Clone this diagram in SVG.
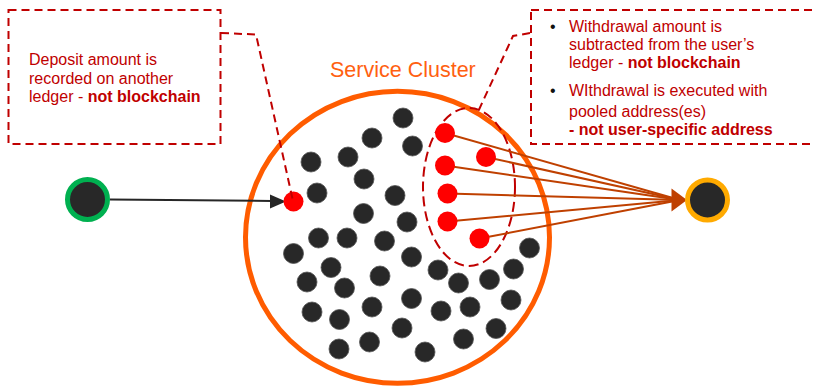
<svg xmlns="http://www.w3.org/2000/svg" width="815" height="387" viewBox="0 0 815 387">
  <style>
    .note { fill: #c00000; font-family: "Liberation Sans", Arial, sans-serif; font-size: 16px; }
    .note tspan.b { font-weight: bold; }
    .bullet { fill: #111; font-family: "Liberation Sans", Arial, sans-serif; font-size: 16px; }
    .callout { fill: none; stroke: #c00000; stroke-width: 2; stroke-dasharray: 8 5; }
    .dot { fill: #282828; stroke: #555; stroke-width: 0.8; }
    .hot { fill: #ff0000; }
    .flow { stroke: #bf4000; stroke-width: 2; fill: none; }
    .endpoint-in { fill: #282828; stroke: #00b050; stroke-width: 5; }
    .endpoint-out { fill: #282828; stroke: #ffaa00; stroke-width: 5; }
  </style>

  <rect width="815" height="387" fill="#ffffff"/>

  <!-- cluster boundary and label -->
  <g id="cluster">
    <ellipse cx="397.5" cy="237.3" rx="152" ry="146" fill="none" stroke="#ff5c00" stroke-width="5"/>
    <text x="330" y="76.5" fill="#ff6010" font-family="'Liberation Sans', Arial, sans-serif" font-size="21.5">Service Cluster</text>
  </g>

  <!-- ordinary members of the cluster -->
  <g id="members">
    <circle class="dot" cx="403" cy="118" r="10"/>
    <circle class="dot" cx="372" cy="138" r="10"/>
    <circle class="dot" cx="412.5" cy="146" r="10"/>
    <circle class="dot" cx="311" cy="162" r="10"/>
    <circle class="dot" cx="348" cy="157" r="10"/>
    <circle class="dot" cx="364" cy="179" r="10"/>
    <circle class="dot" cx="317" cy="193" r="10"/>
    <circle class="dot" cx="395" cy="195.5" r="10"/>
    <circle class="dot" cx="363.5" cy="213.5" r="10"/>
    <circle class="dot" cx="407" cy="222" r="10"/>
    <circle class="dot" cx="318.5" cy="238" r="10"/>
    <circle class="dot" cx="347" cy="238" r="10"/>
    <circle class="dot" cx="384.5" cy="241" r="10"/>
    <circle class="dot" cx="293.5" cy="253.5" r="10"/>
    <circle class="dot" cx="331" cy="267.5" r="10"/>
    <circle class="dot" cx="411.5" cy="257" r="10"/>
    <circle class="dot" cx="307" cy="282" r="10"/>
    <circle class="dot" cx="344.5" cy="288" r="10"/>
    <circle class="dot" cx="380" cy="276" r="10"/>
    <circle class="dot" cx="438" cy="270" r="10"/>
    <circle class="dot" cx="458.5" cy="283" r="10"/>
    <circle class="dot" cx="489.5" cy="279.5" r="10"/>
    <circle class="dot" cx="513.5" cy="269" r="10"/>
    <circle class="dot" cx="529.5" cy="248" r="10"/>
    <circle class="dot" cx="411.5" cy="298.5" r="10"/>
    <circle class="dot" cx="441" cy="311" r="10"/>
    <circle class="dot" cx="470" cy="307" r="10"/>
    <circle class="dot" cx="511" cy="300" r="10"/>
    <circle class="dot" cx="312" cy="312" r="10"/>
    <circle class="dot" cx="339.5" cy="319.5" r="10"/>
    <circle class="dot" cx="372" cy="307" r="10"/>
    <circle class="dot" cx="402" cy="328" r="10"/>
    <circle class="dot" cx="496" cy="328.5" r="10"/>
    <circle class="dot" cx="463.5" cy="339" r="10"/>
    <circle class="dot" cx="339" cy="349" r="10"/>
    <circle class="dot" cx="369.5" cy="342" r="10"/>
    <circle class="dot" cx="425" cy="352" r="10"/>
  </g>

  <!-- pooled withdrawal addresses -->
  <ellipse id="pool" cx="469" cy="187" rx="46" ry="79" fill="none" stroke="#c00000" stroke-width="2" stroke-dasharray="10 5"/>

  <!-- flows -->
  <g id="connectors">
    <line x1="110" y1="199.5" x2="272" y2="201" stroke="#262626" stroke-width="2"/>
    <polygon points="286,201.5 270,194.5 270,208.5" fill="#262626"/>
    <line class="flow" x1="445" y1="133" x2="680" y2="200"/>
    <line class="flow" x1="486" y1="157" x2="680" y2="200"/>
    <line class="flow" x1="445" y1="165.5" x2="680" y2="200"/>
    <line class="flow" x1="447.5" y1="193.5" x2="680" y2="200"/>
    <line class="flow" x1="447.5" y1="221.5" x2="680" y2="200"/>
    <line class="flow" x1="479.5" y1="238.5" x2="680" y2="200"/>
    <polygon points="687,200 671.5,188.5 671.5,211.5" fill="#bf4000"/>
  </g>

  <!-- active members -->
  <g id="deposit-member">
    <circle class="hot" cx="293.5" cy="201.5" r="10"/>
  </g>
  <g id="withdraw-members">
    <circle class="hot" cx="445" cy="133" r="10"/>
    <circle class="hot" cx="486" cy="157" r="10"/>
    <circle class="hot" cx="445" cy="165.5" r="10"/>
    <circle class="hot" cx="447.5" cy="193.5" r="10"/>
    <circle class="hot" cx="447.5" cy="221.5" r="10"/>
    <circle class="hot" cx="479.5" cy="238.5" r="10"/>
  </g>

  <!-- user endpoints -->
  <g id="source">
    <circle class="endpoint-in" cx="87.5" cy="199.5" r="20"/>
  </g>
  <g id="destination">
    <circle class="endpoint-out" cx="707.5" cy="200" r="20"/>
  </g>

  <!-- deposit callout -->
  <g id="deposit-note">
    <rect class="callout" x="8.5" y="10" width="212" height="134"/>
    <polyline class="callout" points="221,33 256,34.5 293,201"/>
    <text class="note" x="29" y="65">Deposit amount is</text>
    <text class="note" x="29" y="83.5">recorded on another</text>
    <text class="note" x="29" y="102">ledger - <tspan class="b">not blockchain</tspan></text>
  </g>

  <!-- withdrawal callout -->
  <g id="withdraw-note">
    <rect class="callout" x="531" y="10" width="300" height="134"/>
    <polyline class="callout" points="530,33 513,36 477,114"/>
    <text class="bullet" x="550" y="31.5">•</text>
    <text class="note" x="569" y="31.5">Withdrawal amount is</text>
    <text class="note" x="569" y="50">subtracted from the user’s</text>
    <text class="note" x="569" y="68">ledger - <tspan class="b">not blockchain</tspan></text>
    <text class="bullet" x="550" y="95.5">•</text>
    <text class="note" x="569" y="95.5">WIthdrawal is executed with</text>
    <text class="note" x="569" y="117">pooled address(es)</text>
    <text class="note" x="569" y="134.5"><tspan class="b">- not user-specific address</tspan></text>
  </g>
</svg>
